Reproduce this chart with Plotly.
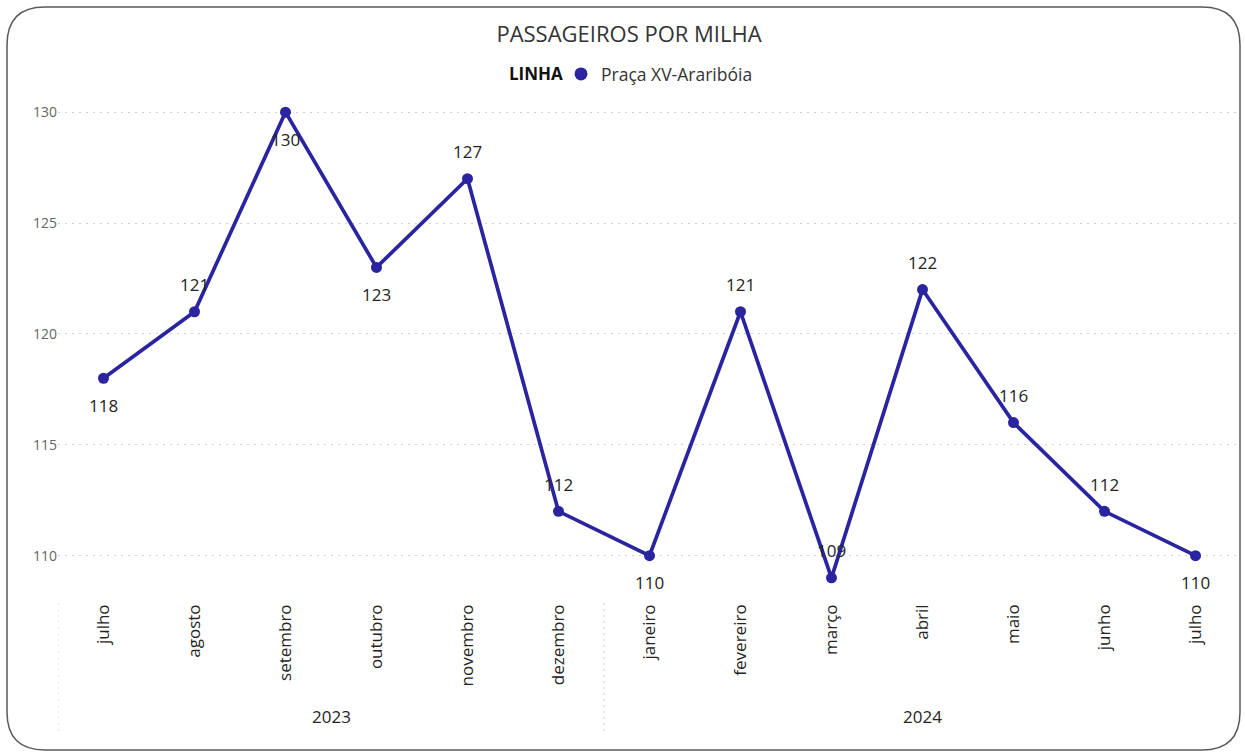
import plotly.graph_objects as go

months = ["julho", "agosto", "setembro", "outubro", "novembro", "dezembro",
          "janeiro", "fevereiro", "março", "abril", "maio", "junho", "julho"]
years = ["2023"] * 6 + ["2024"] * 7
values = [118, 121, 130, 123, 127, 112, 110, 121, 109, 122, 116, 112, 110]
label_pos = ["below", "above", "below", "below", "above", "above", "below",
             "above", "above", "above", "above", "above", "below"]
series_name = "Praça XV-Araribóia"
legend_title = "LINHA"
chart_title = "PASSAGEIROS POR MILHA"

W, H = 1245, 753
ML, MR, MT, MB = 58, 4, 90, 153
PW, PH = W - ML - MR, H - MT - MB

def px(x):
    return (x - ML) / PW

def py(y):
    return (H - MB - y) / PH

idx = list(range(len(values)))
line_color = "#2A24A0"
font_ui = "Open Sans, Segoe UI, sans-serif"
font_din = "Open Sans, DIN, sans-serif"

fig = go.Figure()
fig.add_trace(go.Scatter(
    x=idx, y=values, mode="lines+markers", name=series_name,
    line=dict(color=line_color, width=3.7),
    marker=dict(color=line_color, size=11),
    showlegend=False, hoverinfo="x+y",
))
fig.add_trace(go.Scatter(
    x=[None], y=[None], mode="markers", name=series_name,
    marker=dict(color=line_color, size=13), showlegend=True,
))

annotations = []
for i, (v, p) in enumerate(zip(values, label_pos)):
    annotations.append(dict(
        x=i, y=v, xref="x", yref="y", text=str(v), showarrow=False,
        yshift=27 if p == "above" else -27,
        font=dict(family=font_ui, size=17, color="#252423"),
    ))

groups = {}
for i, yr in enumerate(years):
    groups.setdefault(yr, []).append(i)
for yr, ids in groups.items():
    annotations.append(dict(
        x=(ids[0] + ids[-1]) / 2, y=py(716), xref="x", yref="paper",
        text=yr, showarrow=False, yanchor="middle",
        font=dict(family=font_ui, size=17, color="#252423"),
    ))

annotations.append(dict(
    x=px(507), y=py(74), xref="paper", yref="paper", xanchor="left",
    yanchor="middle", text="<b>" + legend_title + "</b>", showarrow=False,
    font=dict(family=font_din, size=17, color="#111111"),
))

shapes = []
bounds = [-0.5] + [ids[-1] + 0.5 for yr, ids in list(groups.items())[:-1]]
for b in bounds:
    shapes.append(dict(type="line", xref="x", yref="paper", x0=b, x1=b,
                       y0=py(603), y1=py(732),
                       line=dict(color="#cfcfcf", width=1, dash="2px,4px")))

x0, y0, x1, y1, r = 7, 7, 1240, 750, 38
def P(x, y):
    return f"{px(x):.5f},{py(y):.5f}"
path = (f"M {P(x0 + r, y0)} L {P(x1 - r, y0)} Q {P(x1, y0)} {P(x1, y0 + r)} "
        f"L {P(x1, y1 - r)} Q {P(x1, y1)} {P(x1 - r, y1)} "
        f"L {P(x0 + r, y1)} Q {P(x0, y1)} {P(x0, y1 - r)} "
        f"L {P(x0, y0 + r)} Q {P(x0, y0)} {P(x0 + r, y0)} Z")
shapes.append(dict(type="path", xref="paper", yref="paper", path=path,
                   line=dict(color="#5a5a5a", width=1.5), layer="above"))

fig.update_layout(
    width=W, height=H,
    margin=dict(l=ML, r=MR, t=MT, b=MB),
    paper_bgcolor="white", plot_bgcolor="white",
    title=dict(text=chart_title, x=629 / W, xref="container", xanchor="center",
               y=1 - 34 / H, yref="container", yanchor="middle",
               font=dict(family=font_din, size=22, color="#333333")),
    legend=dict(orientation="h", x=px(561), xanchor="left", y=py(74),
                yanchor="middle",
                font=dict(family=font_din, size=17.5, color="#333333"),
                itemwidth=30),
    xaxis=dict(range=[-0.5, len(values) - 0.5], tickmode="array",
               tickvals=idx, ticktext=months, tickangle=-90,
               showgrid=False, zeroline=False, showline=False, ticks="",
               tickfont=dict(family=font_ui, size=17, color="#252423")),
    yaxis=dict(range=[108, 131], tickmode="array",
               tickvals=[110, 115, 120, 125, 130],
               showgrid=True, gridcolor="#d0d0d0", griddash="2px,5px", gridwidth=1,
               zeroline=False, showline=False, ticks="",
               tickfont=dict(family=font_ui, size=14, color="#666666")),
    annotations=annotations, shapes=shapes,
)

fig.write_html("out.html", config={"displayModeBar": False},
               post_script="document.body.style.margin='0';document.body.style.overflow='hidden';")
